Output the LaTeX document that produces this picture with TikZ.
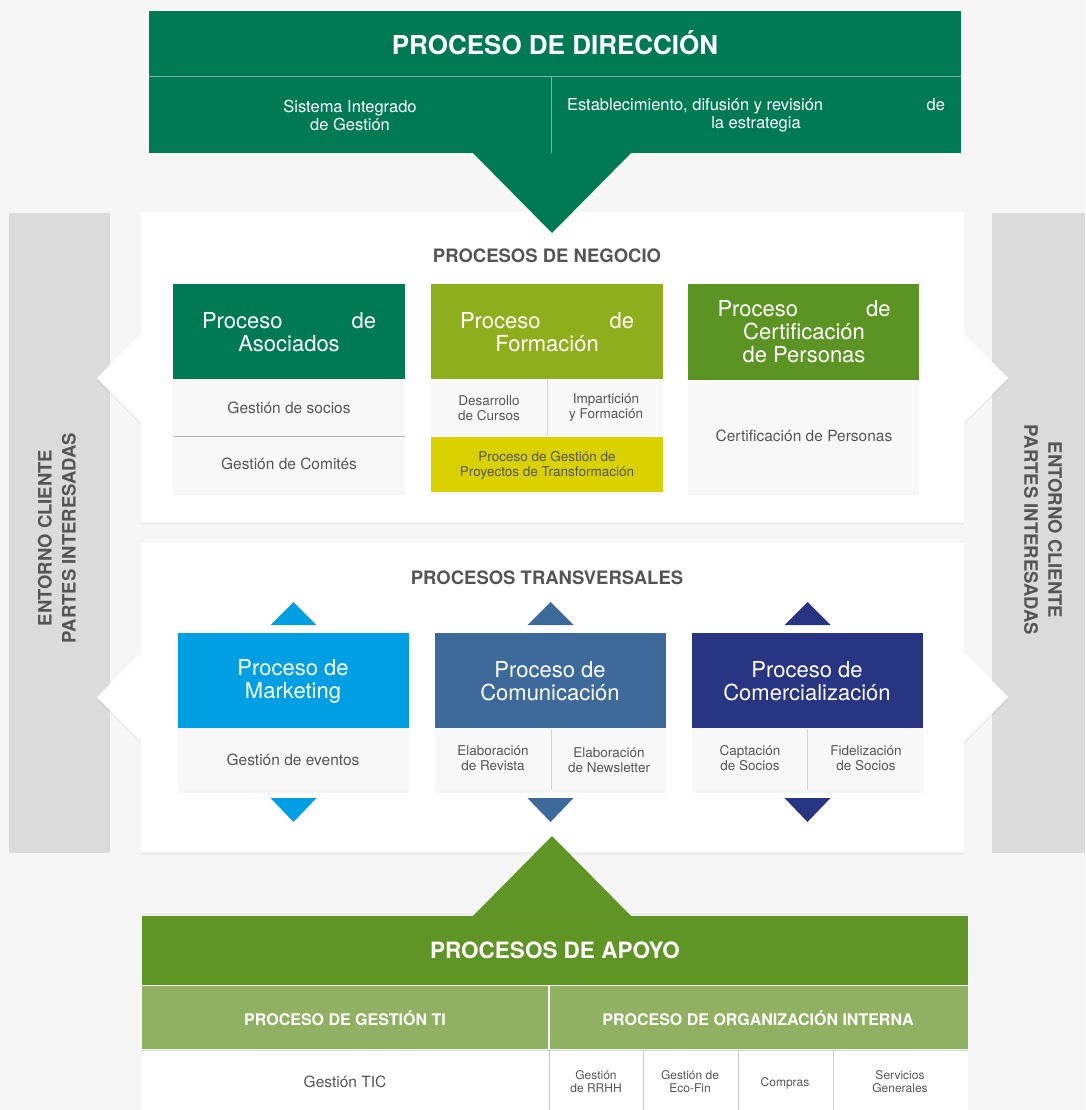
\documentclass[tikz,border=0pt]{standalone}
\usepackage{fontspec}
\setmainfont{TeX Gyre Heros}
\usetikzlibrary{shadows}

\definecolor{bggray}{HTML}{F6F6F6}
\definecolor{sidegray}{HTML}{DBDBDB}
\definecolor{txtgray}{HTML}{555555}
\definecolor{linegray}{HTML}{B5B5B5}
\definecolor{cellbg}{HTML}{F8F8F8}
\definecolor{dirgreen}{HTML}{007A53}
\definecolor{forgreen}{HTML}{8FAE1B}
\definecolor{cergreen}{HTML}{5C9424}
\definecolor{proyellow}{HTML}{D9D200}
\definecolor{mkblue}{HTML}{009FE3}
\definecolor{comblue}{HTML}{3D6A9A}
\definecolor{comnavy}{HTML}{283583}
\definecolor{apoyogreen}{HTML}{5E9525}
\definecolor{apoyolight}{HTML}{8FB161}

\tikzset{
  panel/.style={fill=white, drop shadow={opacity=.07, shadow xshift=0pt, shadow yshift=-3pt}},
  card/.style={fill=cellbg, drop shadow={opacity=.07, shadow xshift=0pt, shadow yshift=-2.5pt}},
  bigtitle/.style={text=white, font=\bfseries\fontsize{26}{28}\selectfont},
  subtext/.style={text=white, align=center, font=\fontsize{16.5}{18}\selectfont},
  sectitle/.style={text=txtgray, font=\bfseries\fontsize{18.5}{20}\selectfont},
  hdrtext/.style={text=white, align=center, font=\fontsize{22}{23}\selectfont},
  celltext/.style={text=txtgray, align=center, font=\fontsize{15.5}{18}\selectfont},
  smalltext/.style={text=txtgray, align=center, font=\fontsize{13.5}{15}\selectfont},
  tinytext/.style={text=txtgray, align=center, font=\fontsize{12}{13}\selectfont},
  sidetext/.style={text=txtgray, align=center, font=\bfseries\fontsize{18.5}{24}\selectfont},
  apoyotext/.style={text=white, font=\bfseries\fontsize{16}{18}\selectfont},
}

\begin{document}
\begin{tikzpicture}[x=1pt, y=-1pt]

    \fill[bggray] (0,0) rectangle (1085,1110);
    \useasboundingbox (0,0) rectangle (1085,1110);

    \fill[sidegray] (9,213) rectangle (110,853);
    \fill[sidegray] (992,213) rectangle (1085,853);
    \node[sidetext, rotate=90]  (entornoL) at (57,538)   {ENTORNO CLIENTE\\PARTES INTERESADAS};
    \node[sidetext, rotate=-90] (entornoR) at (1043,530) {ENTORNO CLIENTE\\PARTES INTERESADAS};

    \foreach \t/\m/\b in {212/378/522, 543/697/852} {
      \path[panel] (141,\t) -- (964,\t) -- (964,\m-44) -- (1008,\m) -- (964,\m+44) -- (964,\b)
        -- (141,\b) -- (141,\m+44) -- (97,\m) -- (141,\m-44) -- cycle;
    }

    % direccion
    \fill[dirgreen] (149,11) rectangle (961,153);
    \fill[dirgreen] (472,152) -- (632,152) -- (552,233) -- cycle;
    \draw[white, opacity=.45] (149,76.5) -- (961,76.5);
    \draw[white, opacity=.45] (551,77) -- (551,153);
    \node[bigtitle] (dir) at (555,43) {PROCESO DE DIRECCIÓN};
    \node[subtext]  (sig) at (350,115) {Sistema Integrado\\de Gestión};
    \node[subtext]  (est) at (756,115) {\makebox[378pt]{Establecimiento, difusión y revisión\hfill de}\\la estrategia};

    % negocio
    \node[sectitle] (negocio) at (547,256) {PROCESOS DE NEGOCIO};

    \path[card] (173,284) rectangle (405,492);
    \fill[dirgreen] (173,284) rectangle (405,379);
    \draw[linegray] (173,436.5) -- (405,436.5);
    \node[hdrtext]  (aso)    at (289,332) {\makebox[174pt]{Proceso\hfill de}\\Asociados};
    \node[celltext] (socios) at (289,408) {Gestión de socios};
    \node[celltext] (comit)  at (289,464) {Gestión de Comités};

    \path[card] (431,284) rectangle (663,492);
    \fill[forgreen] (431,284) rectangle (663,379);
    \fill[proyellow] (431,437) rectangle (663,492);
    \draw[linegray!60] (547,380) -- (547,436);
    \node[hdrtext]   (form)  at (547,332) {\makebox[174pt]{Proceso\hfill de}\\Formación};
    \node[smalltext] (desa)  at (489,408) {Desarrollo\\de Cursos};
    \node[smalltext] (impa)  at (606,408) {Impartición\\y Formación};
    \node[smalltext] (proy)  at (547,465) {Proceso de Gestión de\\Proyectos de Transformación};

    \path[card] (688,284) rectangle (919,492);
    \fill[cergreen] (688,284) rectangle (919,380);
    \node[hdrtext]  (cert)  at (804,332) {\makebox[173pt]{Proceso\hfill de}\\Certificación\\de Personas};
    \node[celltext] (certp) at (804,436) {Certificación de Personas};

    % transversales
    \node[sectitle] (transv) at (547,578) {PROCESOS TRANSVERSALES};

    \foreach \c/\col in {293.5/mkblue, 550.5/comblue, 807.5/comnavy} {
      \fill[\col] (\c-23,625) -- (\c+23,625) -- (\c,602) -- cycle;
      \fill[\col] (\c-23,798) -- (\c+23,798) -- (\c,822) -- cycle;
      \path[card] (\c-115.5,633) rectangle (\c+115.5,790);
      \fill[\col] (\c-115.5,633) rectangle (\c+115.5,728);
    }
    \draw[linegray!60] (551,729) -- (551,790);
    \draw[linegray!60] (807,729) -- (807,790);

    \node[hdrtext]   (mkt)    at (293,681) {Proceso de\\Marketing};
    \node[celltext]  (event)  at (293,760) {Gestión de eventos};
    \node[hdrtext]   (comu)   at (550,681) {Proceso de\\Comunicación};
    \node[smalltext] (revis)  at (493,758) {Elaboración\\de Revista};
    \node[smalltext] (news)   at (609,760) {Elaboración\\de Newsletter};
    \node[hdrtext]   (comer)  at (807,681) {Proceso de\\Comercialización};
    \node[smalltext] (capt)   at (750,758) {Captación\\de Socios};
    \node[smalltext] (fide)   at (866,758) {Fidelización\\de Socios};

    % apoyo
    \fill[apoyogreen] (472,917) -- (632,917) -- (552,836) -- cycle;
    \path[fill=apoyogreen, drop shadow={opacity=.07, shadow xshift=0pt, shadow yshift=3pt}] (142,916) rectangle (968,985);
    \fill[apoyolight] (142,986) rectangle (968,1049);
    \fill[white] (142,1050) rectangle (968,1110);
    \draw[white, line width=1.2pt] (142,985.5) -- (968,985.5);
    \draw[white, line width=1.5pt] (549,986) -- (549,1049);
    \draw[linegray!60] (142,1050) -- (968,1050);
    \foreach \x in {549, 643, 738, 833} {
      \draw[linegray!70] (\x,1050) -- (\x,1110);
    }

    \node[text=white, font=\bfseries\fontsize{22.5}{24}\selectfont] (apoyo) at (555,950) {PROCESOS DE APOYO};
    \node[apoyotext] (gti)   at (345,1018) {PROCESO DE GESTIÓN TI};
    \node[apoyotext] (orgi)  at (758,1018) {PROCESO DE ORGANIZACIÓN INTERNA};
    \node[celltext]  (tic)   at (345,1082) {Gestión TIC};
    \node[tinytext]  (rrhh)  at (596,1082) {Gestión\\de RRHH};
    \node[tinytext]  (eco)   at (690,1082) {Gestión de\\Eco-Fin};
    \node[tinytext]  (comp)  at (785,1083) {Compras};
    \node[tinytext]  (serv)  at (900,1082) {Servicios\\Generales};

\end{tikzpicture}
\end{document}
